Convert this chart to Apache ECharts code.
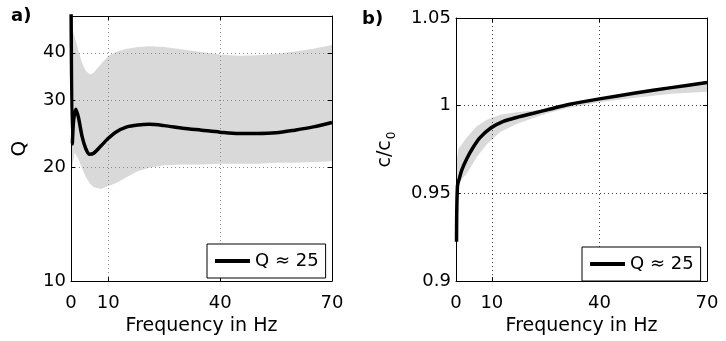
<!DOCTYPE html>
<html>
<head>
<meta charset="utf-8">
<script src="https://cdn.jsdelivr.net/npm/echarts@6/dist/echarts.min.js"></script>
<style>
html,body{margin:0;padding:0;background:#fff;}
#chart{width:726px;height:341px;}
</style>
</head>
<body>
<div id="chart"></div>
<script>
// ---- Data ----
const xTicks = [0, 10, 40, 70];
const qTicks = [10, 20, 30, 40];
const cTicks = [0.9, 0.95, 1, 1.05];
const legendLabel = 'Q \u2248 25';

// Panel a: quality factor Q vs frequency
const aFreq = [0, 0.35, 0.7, 1.3, 2, 3, 4, 5, 6, 8, 10, 12, 15, 18, 21, 25, 30, 35, 40, 45, 50, 55, 60, 65, 70];
const aQ    = [60, 23, 26.5, 28.4, 27, 24, 22.3, 21.6, 21.7, 22.7, 23.8, 24.7, 25.5, 25.8, 25.9, 25.7, 25.3, 25.0, 24.7, 24.5, 24.5, 24.6, 25.0, 25.5, 26.2];
const aBandFreq  = [0, 0.5, 1, 2, 3, 4, 5, 6, 8, 10, 12, 15, 18, 21, 25, 30, 35, 40, 45, 50, 55, 60, 65, 70];
const aBandUpper = [47, 45.5, 44, 40.5, 37.5, 35.8, 35.1, 35.4, 37.3, 39.2, 40.2, 41.0, 41.4, 41.6, 41.4, 40.8, 40.2, 39.6, 39.3, 39.4, 39.7, 40.3, 41.0, 41.9];
const aBandLower = [18.5, 20.5, 21.8, 21.0, 19.8, 18.8, 18.1, 17.7, 17.5, 17.8, 18.1, 18.8, 19.5, 19.9, 20.2, 20.3, 20.3, 20.4, 20.4, 20.4, 20.5, 20.5, 20.6, 20.7];

// Panel b: normalised phase velocity c/c0 vs frequency
const bFreq = [0.15, 0.4, 1, 1.6, 3, 4.8, 6.7, 9.8, 13.2, 16.9, 21.6, 26.3, 31.4, 40, 50, 60, 70];
const bC    = [0.9225, 0.954, 0.959, 0.9633, 0.9698, 0.9763, 0.9818, 0.9874, 0.9911, 0.9933, 0.9957, 0.9981, 1.0007, 1.0039, 1.0072, 1.0103, 1.0132];
const bBandFreq  = [0.15, 0.65, 3, 5.8, 8.6, 12.3, 16.9, 21.6, 26, 31, 40, 50, 60, 70];
const bBandUpper = [0.968, 0.9753, 0.9818, 0.9883, 0.992, 0.9948, 0.9963, 0.9972, 0.9986, 1.0011, 1.0044, 1.0078, 1.0109, 1.0140];
const bBandLower = [0.952, 0.9559, 0.9614, 0.9707, 0.978, 0.9850, 0.9895, 0.9930, 0.9960, 0.9985, 1.0020, 1.0045, 1.0068, 1.0080];

// ---- Chart ----
const FONT = 'DejaVu Sans';
const chart = echarts.init(document.getElementById('chart'), null, {renderer: 'canvas'});

function zip(a, b) { return a.map((v, i) => [v, b[i]]); }

function bandSeries(idx, freq, lower, upper) {
  return {
    type: 'custom', name: 'band' + idx, xAxisIndex: idx * 2, yAxisIndex: idx * 2,
    z: 1, silent: true, clip: true,
    data: freq.map((f, i) => [f, lower[i], upper[i]]),
    encode: {x: 0, y: [1, 2]},
    renderItem: function (params, api) {
      if (params.dataIndex !== 0) return null;
      const pts = [];
      for (let i = 0; i < freq.length; i++) pts.push(api.coord([freq[i], upper[i]]));
      for (let i = freq.length - 1; i >= 0; i--) pts.push(api.coord([freq[i], lower[i]]));
      return {type: 'polygon', shape: {points: pts}, style: {fill: '#d9d9d9'}};
    }
  };
}

function xAxes(gridIndex, gridColor) {
  return [{
    type: 'value', gridIndex: gridIndex, min: 0, max: 70, position: 'bottom', z: 3,
    name: 'Frequency in Hz', nameLocation: 'middle', nameGap: 28,
    nameTextStyle: {fontFamily: FONT, fontSize: 19, color: '#000'},
    axisLine: {show: true, onZero: false, lineStyle: {color: '#000', width: 1}},
    axisTick: {show: true, inside: true, length: 4, customValues: xTicks, lineStyle: {color: '#000'}},
    axisLabel: {show: true, customValues: xTicks, margin: 13, fontFamily: FONT, fontSize: 18, color: '#000'},
    splitLine: {show: true, lineStyle: {color: gridColor, width: 1, type: [1, 3]}}
  }, {
    type: 'value', gridIndex: gridIndex, min: 0, max: 70, position: 'top', z: 3,
    axisLine: {show: true, onZero: false, lineStyle: {color: '#000', width: 1}},
    axisTick: {show: true, inside: true, length: 4, customValues: xTicks, lineStyle: {color: '#000'}},
    axisLabel: {show: false},
    splitLine: {show: false}
  }];
}

const option = {
  animation: false,
  backgroundColor: '#fff',
  grid: [
    {left: 71, top: 16, width: 261, height: 268},
    {left: 456, top: 18, width: 251, height: 269}
  ],
  xAxis: [].concat(xAxes(0, '#8c8c8c'), xAxes(1, '#444')),
  yAxis: [
    {
      type: 'log', logBase: 10, gridIndex: 0, min: 10, max: 50, position: 'left', z: 3,
      name: 'Q', nameLocation: 'middle', nameGap: 41, nameRotate: 90,
      nameTextStyle: {fontFamily: FONT, fontSize: 20, color: '#000'},
      axisLine: {show: true, onZero: false, lineStyle: {color: '#000', width: 1}},
      axisTick: {show: true, inside: true, length: 4, customValues: qTicks, lineStyle: {color: '#000'}},
      axisLabel: {show: true, customValues: qTicks, margin: 5, fontFamily: FONT, fontSize: 18, color: '#000'},
      splitLine: {show: true, lineStyle: {color: '#8c8c8c', width: 1, type: [1, 3]}}
    },
    {
      type: 'log', logBase: 10, gridIndex: 0, min: 10, max: 50, position: 'right', z: 3,
      axisLine: {show: true, onZero: false, lineStyle: {color: '#000', width: 1}},
      axisTick: {show: true, inside: true, length: 4, customValues: qTicks, lineStyle: {color: '#000'}},
      axisLabel: {show: false}, splitLine: {show: false}
    },
    {
      type: 'value', gridIndex: 1, min: 0.9, max: 1.05, interval: 0.05, position: 'left', z: 3,
      name: '{a|c/c}{b|0}', nameLocation: 'middle', nameGap: 58, nameRotate: 90,
      nameTextStyle: {fontFamily: FONT, fontSize: 19, color: '#000',
        rich: {a: {fontFamily: FONT, fontSize: 19, color: '#000'},
               b: {fontFamily: FONT, fontSize: 12, color: '#000', padding: [14, 0, 0, 1]}}},
      axisLine: {show: true, onZero: false, lineStyle: {color: '#000', width: 1}},
      axisTick: {show: true, inside: true, length: 4, lineStyle: {color: '#000'}},
      axisLabel: {show: true, margin: 5, fontFamily: FONT, fontSize: 18, color: '#000'},
      splitLine: {show: true, lineStyle: {color: '#444', width: 1, type: [1, 3]}}
    },
    {
      type: 'value', gridIndex: 1, min: 0.9, max: 1.05, interval: 0.05, position: 'right', z: 3,
      axisLine: {show: true, onZero: false, lineStyle: {color: '#000', width: 1}},
      axisTick: {show: true, inside: true, length: 4, lineStyle: {color: '#000'}},
      axisLabel: {show: false}, splitLine: {show: false}
    }
  ],
  legend: [
    {left: 207, top: 244, data: [legendLabel], icon: 'rect', itemWidth: 35, itemHeight: 4,
     padding: [8, 7, 8, 8], borderColor: '#000', borderWidth: 1, backgroundColor: '#fff', z: 10,
     selectedMode: false, textStyle: {fontFamily: FONT, fontSize: 18, color: '#000'}},
    {left: 582, top: 247, data: [legendLabel], icon: 'rect', itemWidth: 35, itemHeight: 4,
     padding: [8, 7, 8, 8], borderColor: '#000', borderWidth: 1, backgroundColor: '#fff', z: 10,
     selectedMode: false, textStyle: {fontFamily: FONT, fontSize: 18, color: '#000'}}
  ],
  graphic: [
    {type: 'text', left: 11, top: 7, z: 20, style: {text: 'a)', font: 'bold 18px "DejaVu Sans"', fill: '#000'}},
    {type: 'text', left: 362, top: 10, z: 20, style: {text: 'b)', font: 'bold 18px "DejaVu Sans"', fill: '#000'}}
  ],
  series: [
    bandSeries(0, aBandFreq, aBandLower, aBandUpper),
    {type: 'line', name: legendLabel, xAxisIndex: 0, yAxisIndex: 0, data: zip(aFreq, aQ),
     smooth: 0.3, showSymbol: false, symbol: 'none', z: 5, clip: true, color: '#000',
     lineStyle: {color: '#000', width: 3.5}},
    bandSeries(1, bBandFreq, bBandLower, bBandUpper),
    {type: 'line', name: legendLabel, xAxisIndex: 2, yAxisIndex: 2, data: zip(bFreq, bC),
     smooth: 0.3, showSymbol: false, symbol: 'none', z: 5, clip: true, color: '#000',
     lineStyle: {color: '#000', width: 3.5}}
  ]
};
chart.setOption(option);
</script>
</body>
</html>
